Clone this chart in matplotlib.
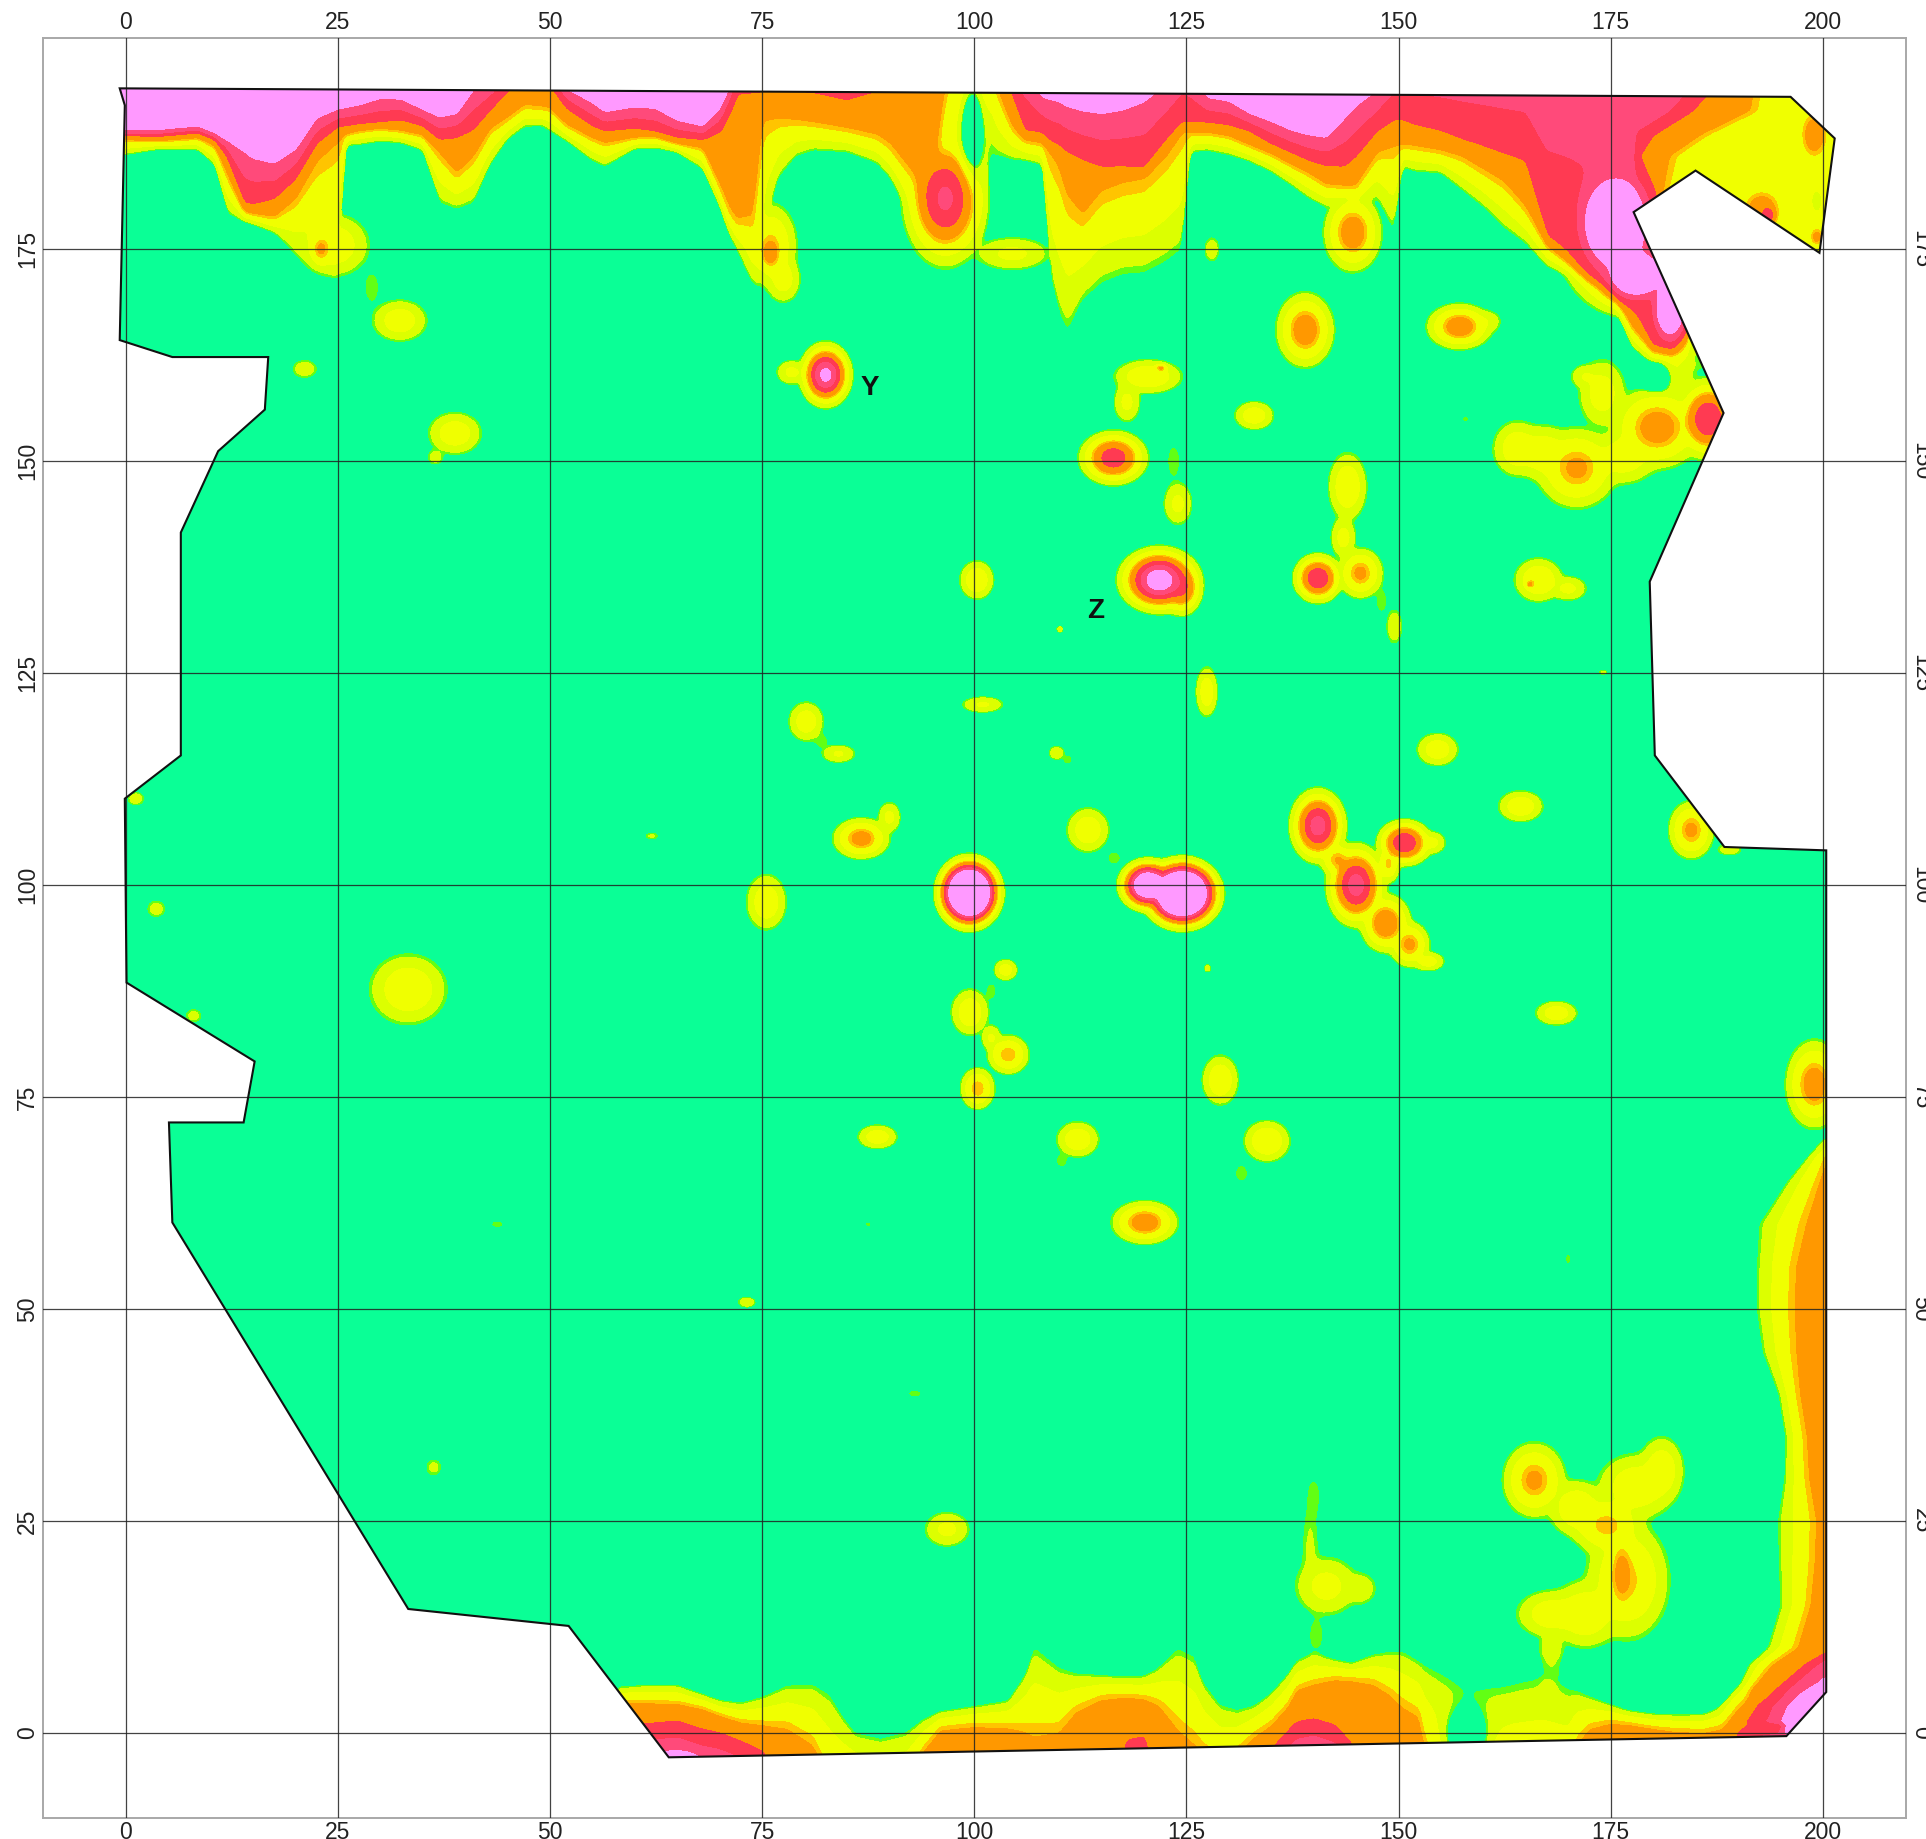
import numpy as np
import matplotlib
matplotlib.use("Agg")
import matplotlib.pyplot as plt
from matplotlib.patches import Polygon

plt.rcParams['font.family'] = ['Liberation Sans', 'DejaVu Sans']

# survey outline
outline_x = [-0.7, -0.1, -0.7, 5.5, 16.8, 16.4, 10.9, 6.5, 6.5, -0.1, 0.1, 15.2, 13.9, 5.1, 5.5, 33.3, 52.2, 64.0,
             195.7, 200.4, 200.4, 188.4, 180.2, 179.6, 188.3, 177.7, 185.0, 199.6, 201.4, 196.2]
outline_y = [194.0, 192.0, 164.3, 162.3, 162.3, 156.1, 151.2, 141.6, 115.3, 110.2, 88.5, 79.2, 72.0, 72.0, 60.2, 14.6,
             12.6, -2.9, -0.4, 4.8, 104.1, 104.5, 115.3, 135.8, 155.7, 179.4, 184.3, 174.6, 188.1, 193.0]

# north margin, per column: x, y of the lime, orange, red and pink contours
north_edges = [
    (0, 186.2, 188.0, 188.5, 188.9), (4, 186.9, 187.8, 188.4, 189.0), (8.5, 186.8, 188.2, 188.8, 189.4),
    (10.5, 185.0, 187.3, 188.0, 188.6), (12, 179.3, 184.0, 186.0, 187.8), (14, 178.3, 179.5, 180.5, 186.6),
    (15, 178.0, 179.2, 180.3, 185.8), (17.5, 177.0, 178.8, 181.0, 185.2), (20, 174.5, 181.0, 183.3, 186.8),
    (22.5, 173.0, 185.5, 187.5, 190.5), (25, 171.8, 187.8, 189.5, 191.5), (26, 187.3, 188.6, 189.6, 191.7),
    (27.5, 187.4, 189.0, 189.8, 192.0), (30, 187.8, 189.3, 190.0, 192.8), (32.5, 187.6, 189.0, 190.3, 192.7),
    (35, 186.7, 188.5, 189.6, 191.5), (37, 180.5, 186.5, 188.0, 190.6), (39, 179.8, 184.0, 188.3, 191.0),
    (41, 180.5, 186.0, 189.2, 193.9), (43, 185.0, 189.3, 191.5, 195.0), (45, 188.0, 190.5, 193.7, 197.0),
    (47, 189.5, 192.0, 196.0, 198.0), (49, 189.6, 191.8, 196.0, 198.0), (50, 189.0, 191.7, 194.5, 197.0),
    (52, 187.8, 189.7, 191.7, 193.9), (55, 185.5, 188.2, 189.6, 192.3), (56.5, 184.8, 187.6, 189.0, 191.2),
    (60, 186.9, 188.2, 189.3, 191.8), (62.5, 187.0, 188.3, 188.9, 191.6), (65, 186.5, 187.5, 188.2, 190.2),
    (68, 184.5, 187.0, 188.0, 189.5), (70, 180.0, 182.5, 189.0, 191.5), (71, 177.0, 180.0, 191.0, 193.7),
    (72, 175.0, 178.5, 193.5, 197.0), (74, 171.0, 179.0, 193.7, 197.0), (75, 171.0, 190.0, 193.7, 197.0),
    (75.5, 178.0, 190.3, 193.7, 197.0), (77, 183.5, 190.5, 193.7, 197.0), (79, 186.0, 190.3, 193.7, 197.0),
    (81, 186.7, 190.0, 193.6, 197.0), (85, 186.5, 189.3, 192.7, 197.0), (88.5, 185.2, 188.5, 193.8, 197.0),
    (90, 183.5, 187.5, 195.0, 197.0), (92, 180.0, 185.0, 195.0, 197.0), (94, 178.0, 183.3, 195.0, 197.0),
    (95.5, 176.0, 186.5, 195.5, 197.0), (96.5, 176.0, 194.5, 196.0, 197.0), (97, 176.0, 197.0, 198.0, 199.0),
    (101, 175.5, 197.0, 198.0, 199.0), (102, 186.0, 197.0, 198.0, 199.0), (103, 186.0, 193.4, 197.0, 198.0),
    (104.5, 185.6, 189.5, 193.5, 197.0), (106, 185.5, 187.9, 189.0, 197.0), (108, 185.0, 187.6, 188.8, 193.0),
    (109, 171.5, 186.5, 187.8, 192.7), (110, 167.3, 185.0, 187.4, 192.5), (111, 165.2, 181.5, 186.6, 191.9),
    (112.8, 169.0, 179.2, 185.7, 191.4), (115, 171.0, 182.0, 184.8, 191.1), (117.5, 172.0, 183.0, 184.8, 191.5),
    (120, 172.2, 183.5, 184.6, 192.5), (122.5, 173.5, 186.0, 187.8, 194.5), (124.5, 175.0, 189.0, 190.0, 197.0),
    (125.5, 186.5, 188.8, 190.0, 196.0), (127.5, 186.7, 188.8, 190.0, 192.9), (130, 186.2, 188.4, 189.7, 192.5),
    (132.5, 185.4, 187.3, 189.0, 191.0), (135, 184.2, 186.3, 187.5, 190.1), (137.5, 182.5, 185.0, 186.4, 189.0),
    (139.5, 181.0, 184.0, 185.5, 188.5), (141.5, 180.0, 182.7, 184.9, 188.2), (143.6, 180.5, 182.5, 184.8, 190.5),
    (145, 180.0, 182.5, 186.0, 192.0), (147.5, 181.0, 186.5, 189.0, 193.9), (149.5, 177.0, 187.2, 190.3, 197.0),
    (150.5, 184.7, 187.4, 190.3, 197.0), (152, 184.2, 187.2, 189.7, 197.0), (155, 184.0, 186.7, 189.0, 197.0),
    (157.5, 182.0, 186.0, 188.0, 197.0), (160, 180.0, 184.5, 187.2, 197.0), (162.5, 177.5, 183.0, 186.3, 197.0),
    (165, 175.7, 180.0, 185.5, 197.0), (167.5, 173.0, 175.5, 176.5, 197.0), (170, 172.0, 173.5, 174.8, 197.0),
    (172.5, 170.3, 171.5, 172.5, 197.0), (175, 169.5, 170.5, 171.3, 197.0), (177.5, 163.5, 166.0, 168.0, 197.0),
    (180, 161.5, 163.0, 163.8, 197.0), (182.5, 161.5, 162.9, 164.0, 197.0), (184, 161.0, 165.0, 167.0, 197.0),
    (185, 161.0, 197.0, 198.0, 199.0),
]

# north-east corner, per row: y, x of the red and orange contours
corner_edges = [
    (178, 181.0, 180.7), (181, 180.3, 180.9), (182, 180.0, 181.0), (183.8, 179.0, 181.5), (186.0, 178.4, 182.0),
    (188.5, 180.0, 185.7), (191.3, 184.5, 191.5), (194, 187.0, 192.0),
]

# south margin, per column: x, y of the lime, orange and red contours
south_edges = [
    (59, 5.4, 3.6, 1.5), (61, 5.6, 3.5, 1.0), (65, 5.6, 3.4, 1.4), (68, 4.5, 2.8, 0.4), (70, 3.8, 2.0, 0.0),
    (72.5, 3.5, 1.2, -1.0), (75, 4.2, 0.9, -2.2), (78, 5.6, 0.5, -7.0), (81, 5.7, -1.5, -7.0), (83, 4.5, -6.0, -7.0),
    (84.5, 2.0, -6.0, -7.0), (86, 0.0, -6.0, -7.0), (89, -0.7, -6.0, -7.0), (92, 0.1, -6.0, -7.0),
    (94, 1.6, -2.2, -7.0), (96, 2.5, 0.4, -7.0), (100, 3.1, 0.8, -7.0), (104, 3.8, 0.6, -7.0), (106, 7.0, 0.1, -7.0),
    (107, 10.2, -0.5, -7.0), (110, 7.7, 0.0, -7.0), (112, 7.0, 2.5, -7.0), (115, 6.8, 4.0, -7.0),
    (117, 6.6, 4.2, -7.0), (118, 6.6, 4.2, -1.0), (120, 6.7, 4.0, -0.5), (121.5, 7.5, 3.4, -7.0), (122, 8.0, 3.0, -7.0),
    (124, 10.0, 0.3, -7.0), (126, 9.0, -1.5, -7.0), (127, 6.0, -2.5, -7.0), (129, 3.3, -3.5, -7.0),
    (131, 2.7, -2.5, -7.0), (133, 3.2, -0.5, -7.0), (135, 4.7, 0.8, -2.0), (137, 7.0, 3.0, 0.2), (138, 8.5, 5.0, 1.2),
    (140, 9.4, 5.7, 1.6), (142.5, 8.6, 6.3, 0.8), (144.5, 8.2, 6.2, -1.5), (147, 9.2, 5.8, -7.0), (149, 9.6, 4.5, -7.0),
    (150.5, 9.6, 3.0, -7.0), (152.5, 8.4, 1.8, -7.0), (153, 8.0, -1.5, -7.0), (155, 7.0, -6.0, -7.0),
    (157.5, 5.5, -6.0, -7.0), (160, 5.3, -6.0, -7.0), (162.5, 5.5, -6.0, -7.0), (164.5, 6.0, -6.0, -7.0),
    (167, 6.5, -6.0, -7.0), (170, 5.2, -6.0, -7.0), (171, 5.0, -1.5, -7.0), (172.5, 4.3, 0.5, -7.0),
    (175, 3.3, 1.2, -7.0), (177, 2.6, 1.0, -2.0), (180, 2.2, 0.5, -2.0), (183, 2.1, 0.2, -7.0), (186, 2.2, 0.1, -7.0),
    (188, 3.0, 0.5, -7.0), (190, 5.5, 2.3, 0.0), (192, 5.5, 3.5, 1.5), (200, 5.5, 4.0, 2.5),
]

# east margin, per row: y, x of the lime, orange and red contours
east_edges = [
    (3, 187.8, 191.5, 193.0), (5, 190.0, 191.5, 194.5), (8, 191.3, 194.0, 198.0), (10, 193.5, 197.0, 201.5),
    (15, 195.0, 198.5, 203.0), (20, 194.8, 199.0, 204.0), (25, 194.7, 199.2, 204.0), (30, 195.5, 198.3, 204.0),
    (35, 195.6, 198.0, 204.0), (40, 194.8, 197.2, 204.0), (45, 192.9, 196.8, 204.0), (50, 192.2, 196.6, 204.0),
    (55, 192.2, 196.8, 204.0), (60, 192.5, 198.0, 204.0), (65, 195.8, 199.6, 204.0), (68, 198.3, 200.6, 205.0),
    (70, 200.0, 204.0, 206.0), (72, 205.0, 206.0, 207.0),
]

# anomalies: x, y, width x, width y, peak
spots_north = [
    (24.5, 175.5, 3.2, 2.8, 2.4), (23.0, 175.0, 1.0, 1.5, 3.0), (29.0, 170.5, 1.4, 3.0, 1.12),
    (32.3, 166.6, 2.5, 1.9, 2.3), (21.1, 160.9, 1.5, 1.1, 1.5), (38.8, 153.3, 2.4, 1.9, 2.35),
    (36.5, 150.5, 1.0, 1.0, 1.4), (76.0, 175.5, 2.2, 3.5, 2.8), (77.5, 171.5, 1.6, 2.2, 2.2),
    (76.0, 174.5, 1.0, 1.6, 3.3), (82.5, 160.2, 1.7, 2.1, 6.4), (78.5, 160.5, 1.5, 1.2, 2.0),
    (96.6, 181.0, 2.9, 4.6, 5.2), (104.5, 174.5, 3.6, 1.6, 2.0), (128.0, 175.0, 0.9, 1.5, 1.5),
    (144.6, 177.0, 2.2, 3.0, 3.6),
]
spots_ne = [
    (175.5, 178.0, 3.5, 5.0, 9.0), (178.0, 172.0, 3.0, 2.5, 8.5), (182.0, 168.0, 1.8, 3.5, 8.0),
    (199.0, 188.5, 1.3, 2.3, 3.6), (192.8, 179.8, 1.8, 1.8, 3.6), (193.6, 179.0, 0.8, 1.0, 4.4),
    (199.3, 176.5, 0.9, 1.2, 3.2), (180.5, 154.0, 3.5, 3.2, 3.5), (186.5, 155.0, 2.2, 2.8, 5.0),
    (182.0, 160.5, 2.5, 2.5, 2.0), (164.0, 151.5, 2.2, 2.5, 2.4), (167.0, 151.0, 2.5, 2.5, 2.4),
    (171.0, 149.2, 3.2, 3.2, 3.2), (176.5, 150.5, 3.0, 2.5, 2.3), (174.0, 158.0, 2.2, 3.2, 2.2),
    (172.0, 160.0, 1.5, 1.2, 1.8),
]
spots_upper = [
    (139.0, 165.5, 2.2, 2.85, 3.6), (157.2, 165.9, 2.5, 1.75, 3.6), (160.5, 166.5, 1.5, 1.2, 1.6),
    (133.0, 155.4, 1.8, 1.3, 2.3), (120.5, 160.0, 3.0, 1.5, 2.5), (118.0, 157.0, 1.3, 2.0, 2.0),
    (122.0, 161.0, 0.6, 0.4, 3.1), (116.4, 150.4, 2.4, 1.9, 4.7), (124.0, 145.0, 1.4, 2.1, 2.0),
    (123.5, 150.0, 1.2, 3.2, 1.12), (121.8, 136.0, 2.6, 2.1, 7.0), (124.5, 135.0, 1.5, 2.0, 4.0),
    (140.5, 136.2, 1.7, 1.7, 5.0), (145.5, 136.8, 1.8, 2.0, 3.2), (144.0, 147.0, 1.7, 3.0, 2.5),
    (143.5, 141.0, 1.2, 2.0, 2.1), (149.5, 130.5, 0.9, 2.0, 1.6), (148.0, 133.5, 1.0, 2.2, 1.12),
    (100.3, 136.0, 1.5, 1.7, 2.5), (166.5, 136.0, 2.1, 1.9, 2.6), (170.0, 135.0, 1.8, 1.2, 2.0),
    (165.5, 135.5, 0.5, 0.5, 3.0), (110.1, 130.2, 0.4, 0.4, 1.5), (174.1, 125.1, 0.5, 0.3, 1.4),
]
spots_middle = [
    (127.4, 122.8, 1.0, 2.3, 2.3), (101.0, 121.3, 2.1, 0.8, 1.9), (80.2, 119.3, 1.6, 1.8, 2.3),
    (84.0, 115.5, 1.7, 0.9, 1.9), (82.0, 117.0, 1.2, 1.2, 1.12), (109.7, 115.6, 0.9, 0.8, 1.6),
    (111.0, 114.8, 0.8, 0.8, 1.12), (154.6, 116.0, 1.9, 1.5, 2.3), (164.4, 109.3, 2.0, 1.4, 2.4),
    (62.0, 105.8, 1.0, 0.5, 1.25), (86.7, 105.5, 2.2, 1.6, 3.4), (90.0, 108.0, 1.1, 1.5, 2.0),
    (75.5, 98.0, 1.8, 2.5, 2.4), (99.4, 99.1, 1.85, 2.05, 14.0), (120.5, 100.0, 1.8, 1.6, 9.0),
    (124.5, 99.0, 2.2, 2.0, 14.0), (113.4, 106.5, 1.9, 2.0, 2.4), (116.5, 103.2, 1.2, 1.2, 1.12),
    (140.5, 107.0, 1.9, 2.5, 5.5), (145.0, 100.0, 2.0, 2.8, 5.5), (148.5, 95.5, 1.9, 2.2, 3.8),
    (151.3, 93.0, 1.6, 1.8, 3.2), (153.5, 91.0, 1.5, 0.9, 2.2), (150.7, 105.0, 1.9, 1.6, 5.0),
    (154.0, 105.0, 1.3, 1.1, 2.0), (142.8, 103.0, 1.4, 1.4, 3.0), (148.8, 102.5, 1.0, 1.6, 2.8),
    (184.5, 106.5, 1.8, 2.3, 3.2), (189.0, 104.2, 1.5, 0.7, 1.5), (3.6, 97.2, 1.2, 1.1, 1.4),
    (1.2, 110.2, 1.0, 0.8, 1.5),
]
spots_lower = [
    (103.7, 90.0, 1.1, 1.0, 2.2), (102.0, 87.5, 0.9, 1.5, 1.12), (99.5, 85.0, 1.7, 2.1, 2.4),
    (104.0, 80.0, 1.7, 1.6, 3.0), (100.4, 76.0, 1.4, 1.7, 3.0), (102.0, 82.0, 1.0, 1.3, 1.9),
    (129.0, 77.0, 1.6, 2.2, 2.5), (88.6, 70.3, 1.8, 1.1, 2.3), (112.2, 70.0, 1.9, 1.6, 2.4),
    (110.3, 67.5, 1.0, 1.2, 1.12), (134.5, 69.8, 2.0, 1.8, 2.6), (131.5, 66.0, 1.2, 1.6, 1.12),
    (120.1, 60.2, 2.5, 1.65, 3.6), (33.3, 87.7, 3.4, 3.1, 2.5), (8.0, 84.6, 1.1, 0.9, 1.35),
    (168.6, 84.9, 1.9, 1.1, 2.3), (199.0, 76.5, 2.2, 3.4, 3.5), (127.5, 90.2, 0.4, 0.5, 1.5),
    (43.8, 60.0, 1.0, 0.5, 1.15), (87.5, 60.0, 0.4, 0.4, 1.12), (73.2, 50.8, 1.0, 0.6, 1.6),
    (93.0, 40.0, 1.1, 0.5, 1.15), (36.3, 31.3, 1.1, 1.2, 1.3), (170.0, 55.9, 0.4, 0.9, 1.12),
    (157.9, 155.0, 0.6, 0.4, 1.12),
]
spots_south = [
    (96.8, 24.0, 2.2, 1.7, 2.0), (140.0, 28.0, 1.1, 3.0, 1.13), (139.6, 24.0, 1.2, 4.0, 1.13),
    (139.6, 21.0, 1.3, 3.0, 1.14), (141.5, 17.3, 3.0, 2.8, 2.1), (145.5, 17.0, 1.8, 1.8, 1.6),
    (140.3, 11.5, 1.3, 3.0, 1.13), (166.0, 29.8, 2.5, 3.0, 3.2), (171.0, 26.5, 2.5, 2.5, 2.5),
    (178.0, 29.0, 3.5, 3.0, 2.4), (181.0, 31.0, 2.0, 3.0, 2.4), (174.5, 24.5, 3.0, 2.5, 2.9),
    (177.0, 18.0, 3.5, 5.0, 2.8), (176.3, 19.0, 1.2, 3.8, 3.0), (168.0, 14.0, 3.2, 2.2, 2.3),
    (172.0, 14.0, 3.0, 3.0, 2.5), (168.0, 10.0, 1.5, 2.0, 1.5), (168.0, 7.0, 1.6, 3.0, 1.13),
    (65.0, -3.2, 2.5, 1.0, 7.0), (197.0, 0.5, 1.5, 1.5, 8.0),
]

# low pockets inside the anomalies
holes = [
    (99.8, 189.5, 1.0, 3.5, 3.0), (180.5, 160.0, 1.0, 1.0, 3.0), (199.3, 180.7, 0.5, 1.0, 1.2),
    (158.0, -0.7, 1.6, 2.2, 3.0),
]

levels = [-100, 1.0, 1.17, 1.8, 2.7, 3.0, 4.0, 5.0, 6.0, 100]
colors = ['#0AFF96', '#62FF14', '#DCFF00', '#F0FF00', '#FFC400', '#FF9800', '#FF3A52', '#FF4A7A', '#FF99FF']

ticks_x = list(range(0, 201, 25))
ticks_y = list(range(0, 176, 25))


def smooth(z):
    kernel = np.array([1, 2, 3, 2, 1]) / 9.0
    z = np.apply_along_axis(lambda v: np.convolve(v, kernel, mode='same'), 0, z)
    return np.apply_along_axis(lambda v: np.convolve(v, kernel, mode='same'), 1, z)


def build_field(gx, gy):
    xx, yy = np.meshgrid(gx, gy)

    north = np.zeros(xx.shape)
    edges = np.array(north_edges)
    for i, x in enumerate(gx):
        g, o, r, p = [np.interp(x, edges[:, 0], edges[:, k]) for k in range(1, 5)]
        north[:, i] = np.interp(gy, [g - 1, g, o, r, p, p + 3], [0, 1, 3, 4, 6, 8])

    edges = np.array(corner_edges)
    for j, y in enumerate(gy):
        if y < 178:
            continue
        r, o = np.interp(y, edges[:, 0], edges[:, 1]), np.interp(y, edges[:, 0], edges[:, 2])
        if o <= r:
            o = r + 0.1
        keep = gx >= 178
        north[j, keep] = np.interp(gx[keep], [r - 4, r, o, o + 1.5], [5.5, 4, 3, 2.4])

    south = np.zeros(xx.shape)
    edges = np.array(south_edges)
    for i, x in enumerate(gx):
        g, o, r = [np.interp(x, edges[:, 0], edges[:, k]) for k in range(1, 4)]
        south[:, i] = np.interp(gy, [r - 4, r, o, g, g + 1], [6, 4, 3, 1, 0])
    south[:, gx < 58] = 0

    east = np.zeros(xx.shape)
    edges = np.array(east_edges)
    for j, y in enumerate(gy):
        if y < 1 or y > 72:
            continue
        g, o, r = [np.interp(y, edges[:, 0], edges[:, k]) for k in range(1, 4)]
        east[j, :] = np.interp(gx, [g - 1, g, o, r, r + 3], [0, 1, 3, 4, 6])

    # soft maximum keeps neighbouring anomalies joined without overshoot
    total = smooth(north) ** 4 + smooth(south) ** 4 + smooth(east) ** 4
    for group in (spots_north, spots_ne, spots_upper, spots_middle, spots_lower, spots_south):
        for x0, y0, wx, wy, peak in group:
            total += (peak * np.exp(-(xx - x0) ** 2 / (2 * wx ** 2) - (yy - y0) ** 2 / (2 * wy ** 2))) ** 4
    z = total ** 0.25
    for x0, y0, wx, wy, depth in holes:
        z -= depth * np.exp(-(xx - x0) ** 2 / (2 * wx ** 2) - (yy - y0) ** 2 / (2 * wy ** 2))
    return z


fig = plt.figure(figsize=(19.26, 18.39), dpi=100)
ax = fig.add_axes([42.5 / 1926, 1 - 1817.5 / 1839, (1906 - 42.5) / 1926, (1817.5 - 37.5) / 1839])

grid_x = np.arange(-3, 204, 0.2)
grid_y = np.arange(-6, 197, 0.2)
field = build_field(grid_x, grid_y)

patch = Polygon(np.c_[outline_x, outline_y], closed=True, transform=ax.transData, facecolor='none',
                edgecolor='#111111', linewidth=1.5, zorder=3)
cs = ax.contourf(grid_x, grid_y, field, levels=levels, colors=colors, zorder=1)
cs.set_clip_path(patch)
ax.add_patch(patch)

ax.set_xlim(-9.8, 209.8)
ax.set_ylim(-10, 200)
ax.set_xticks(ticks_x)
ax.set_yticks(ticks_y)
ax.grid(True, color='#222222', linewidth=0.9, alpha=0.85, zorder=2)
ax.set_axisbelow(False)
ax.tick_params(length=0, labelsize=16.5, colors='#222222', top=True, right=True, labeltop=True, labelright=True, pad=2.5)
for tick in ax.yaxis.get_major_ticks():
    tick.label1.set_rotation(90)
    tick.label1.set_va('center')
    tick.label2.set_rotation(270)
    tick.label2.set_va('center')
for spine in ax.spines.values():
    spine.set_color('#a8a8a8')
    spine.set_linewidth(1.4)

ax.text(87.7, 158.6, 'Y', fontsize=20, fontweight='bold', ha='center', va='center', color='#111111', zorder=4)
ax.text(114.3, 132.3, 'Z', fontsize=20, fontweight='bold', ha='center', va='center', color='#111111', zorder=4)

fig.savefig('out.png', dpi=100)
